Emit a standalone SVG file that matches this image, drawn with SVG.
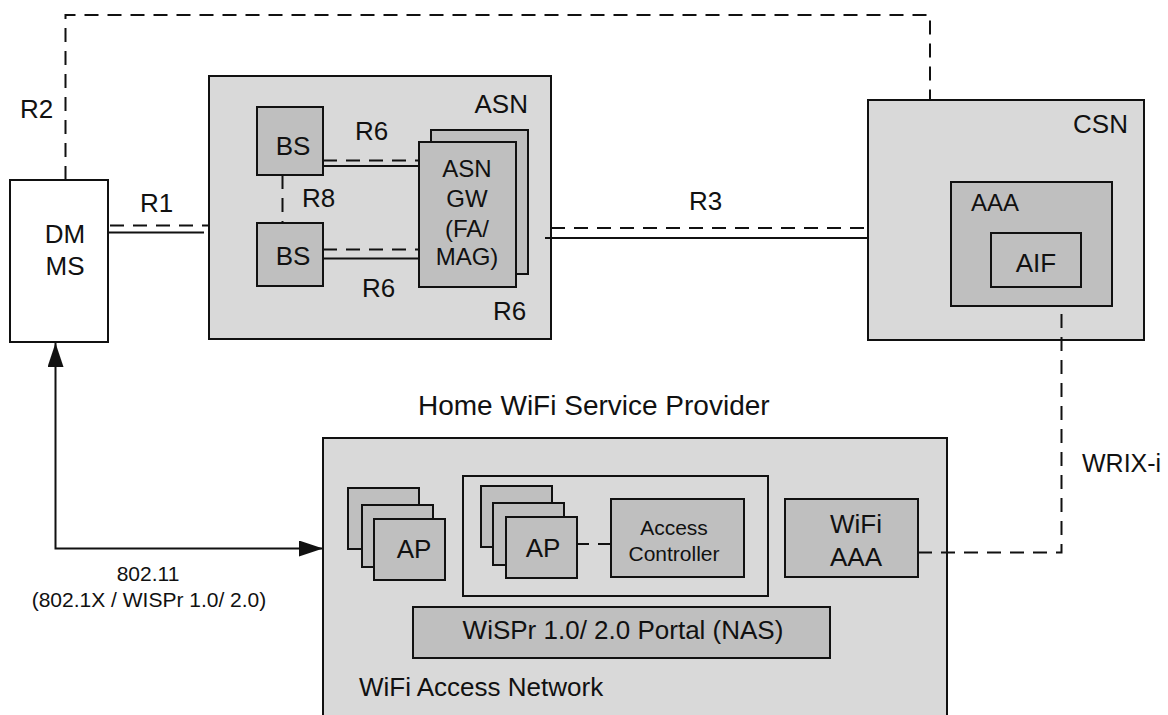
<svg xmlns="http://www.w3.org/2000/svg" width="1168" height="715" viewBox="0 0 1168 715">
  <style>
    text { font-family: "Liberation Sans", Arial, sans-serif; fill: #111; }
    .t28 { font-size: 28px; }
    .t26 { font-size: 26px; }
    .t25 { font-size: 25px; }
    .t24 { font-size: 24px; }
    .t21 { font-size: 21px; }
    .mid { text-anchor: middle; }
    .end { text-anchor: end; }
    .outer { fill: #d9d9d9; stroke: #111; stroke-width: 2; }
    .inner { fill: #bfbfbf; stroke: #111; stroke-width: 2; }
    .plain { fill: #ffffff; stroke: #111; stroke-width: 2; }
    .frame { fill: none; stroke: #111; stroke-width: 2; }
    .solid { fill: none; stroke: #111; stroke-width: 2; }
    .dash { fill: none; stroke: #111; stroke-width: 2; stroke-dasharray: 14 9; }
  </style>
  <defs>
    <marker id="arrow" viewBox="0 0 24 16" refX="24" refY="8" markerWidth="24" markerHeight="16" markerUnits="userSpaceOnUse" orient="auto-start-reverse">
      <path d="M0,0 L24,8 L0,16 z" fill="#111"/>
    </marker>
  </defs>

  <rect width="1168" height="715" fill="#ffffff"/>

  <!-- DM MS terminal -->
  <g id="dmms">
    <rect class="plain" x="10" y="180" width="98" height="162"/>
    <text class="t26 mid" x="65" y="243">DM</text>
    <text class="t26 mid" x="65" y="275">MS</text>
  </g>

  <!-- Access Service Network -->
  <g id="asn">
    <rect class="outer" x="209" y="76" width="342" height="263"/>
    <text class="t26 end" x="528" y="113">ASN</text>
  </g>
  <g id="bs-top">
    <rect class="inner" x="257" y="107" width="66" height="68"/>
    <text class="t26 mid" x="293" y="155">BS</text>
  </g>
  <g id="bs-bottom">
    <rect class="inner" x="257" y="223" width="66" height="63"/>
    <text class="t26 mid" x="293" y="265">BS</text>
  </g>
  <g id="asn-gw">
    <rect class="inner" x="431" y="130" width="97" height="144"/>
    <rect class="inner" x="419" y="142" width="97" height="145"/>
    <text class="t24 mid" x="467" y="177">ASN</text>
    <text class="t24 mid" x="467" y="207">GW</text>
    <text class="t24 mid" x="467" y="237">(FA/</text>
    <text class="t24 mid" x="467" y="265">MAG)</text>
  </g>

  <!-- Connectivity Service Network -->
  <g id="csn">
    <rect class="outer" x="868" y="100" width="276" height="240"/>
    <text class="t26 end" x="1128" y="133">CSN</text>
  </g>
  <g id="aaa">
    <rect class="inner" x="951" y="182" width="161" height="124"/>
    <text class="t24" x="971" y="211">AAA</text>
  </g>
  <g id="aif">
    <rect class="inner" x="991" y="233" width="90" height="54"/>
    <text class="t26 mid" x="1036" y="272">AIF</text>
  </g>

  <!-- Home WiFi access network -->
  <text class="t28" x="418" y="415">Home WiFi Service Provider</text>
  <g id="wifi-an">
    <rect class="outer" x="323" y="438" width="624" height="290"/>
    <text class="t26" x="359" y="696">WiFi Access Network</text>
  </g>
  <g id="ap-standalone">
    <rect class="inner" x="348" y="488" width="71" height="61"/>
    <rect class="inner" x="362" y="505" width="71" height="62"/>
    <rect class="inner" x="374" y="519" width="71" height="61"/>
    <text class="t26 mid" x="414" y="558">AP</text>
  </g>
  <g id="controller-group">
    <rect class="frame" x="463" y="476" width="305" height="120"/>
  </g>
  <g id="ap-managed">
    <rect class="inner" x="481" y="486" width="71" height="61"/>
    <rect class="inner" x="493" y="503" width="71" height="62"/>
    <rect class="inner" x="506" y="517" width="71" height="61"/>
    <text class="t26 mid" x="543" y="557">AP</text>
  </g>
  <g id="access-controller">
    <rect class="inner" x="611" y="499" width="133" height="78"/>
    <text class="t21 mid" x="674" y="535">Access</text>
    <text class="t21 mid" x="674" y="561">Controller</text>
  </g>
  <g id="wifi-aaa">
    <rect class="inner" x="785" y="499" width="133" height="78"/>
    <text class="t26 mid" x="856" y="533">WiFi</text>
    <text class="t26 mid" x="856" y="566">AAA</text>
  </g>
  <g id="wispr-portal">
    <rect class="inner" x="413" y="607" width="417" height="51"/>
    <text class="t26 mid" x="623" y="639">WiSPr 1.0/ 2.0 Portal (NAS)</text>
  </g>

  <!-- Reference points and links -->
  <g id="connectors">
    <!-- R2 -->
    <path class="dash" d="M65.5,180 V15 H930 V100"/>
    <text class="t26" x="20" y="118">R2</text>
    <!-- R1 -->
    <path class="dash" d="M110,225.5 H209"/>
    <path class="solid" d="M108,232.5 H204"/>
    <text class="t26" x="140" y="212">R1</text>
    <!-- R6 upper -->
    <path class="dash" d="M323,160.5 H419"/>
    <path class="solid" d="M323,166 H419"/>
    <text class="t26" x="355" y="140">R6</text>
    <!-- R6 lower -->
    <path class="dash" d="M323,249.5 H419"/>
    <path class="solid" d="M323,258.5 H419"/>
    <text class="t26" x="362" y="297">R6</text>
    <!-- R8 -->
    <path class="dash" d="M282.5,175 V223"/>
    <text class="t26" x="302" y="207">R8</text>
    <text class="t26" x="493" y="320">R6</text>
    <!-- R3 -->
    <path class="dash" d="M551,228 H868"/>
    <path class="solid" d="M545,238 H868"/>
    <text class="t26" x="689" y="210">R3</text>
    <!-- WRIX-i -->
    <path class="dash" d="M918,552.5 H1061.5 V306"/>
    <text class="t25" x="1082" y="472">WRIX-i</text>
    <!-- AP to Access Controller -->
    <path class="dash" d="M577,544 H611" style="stroke-dasharray: 12 9"/>
    <!-- 802.11 air link -->
    <path class="solid" d="M55.5,343 V548.5 H323" marker-start="url(#arrow)" marker-end="url(#arrow)"/>
    <text class="t21 mid" x="148" y="581">802.11</text>
    <text class="t21 mid" x="149" y="607">(802.1X / WISPr 1.0/ 2.0)</text>
  </g>
</svg>
